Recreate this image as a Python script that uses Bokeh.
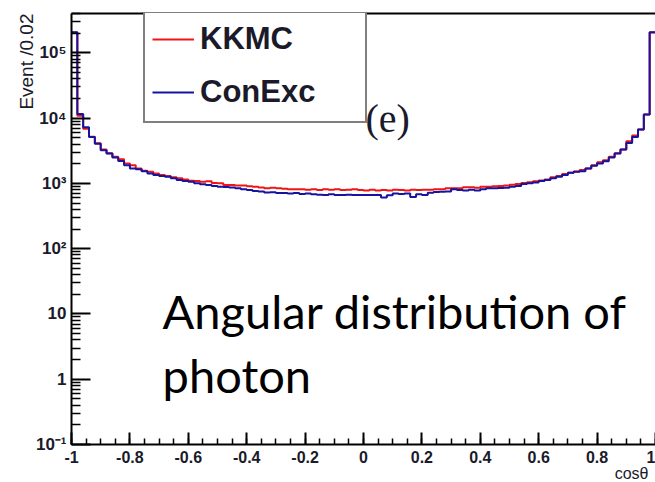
import numpy as np
from bokeh.plotting import figure
from bokeh.models import (FixedTicker, Legend, LegendItem, Label, LinearAxis, Title)
from bokeh.embed import file_html
from bokeh.resources import INLINE

# ---------------- data ----------------
bin_edges = np.linspace(-1.0, 1.0, 101)   # 100 bins of width 0.02 in cos(theta)

kkmc = [205000, 10900, 6860, 5200, 4100, 3300, 2900, 2560, 2350, 2020,
        1900, 1690, 1560, 1510, 1420, 1340, 1300, 1240, 1200, 1150,
        1100, 1090, 1060, 1075, 1015, 1000, 945, 940, 925, 925,
        900, 890, 865, 845, 860, 845, 830, 815, 815, 815,
        800, 815, 790, 815, 800, 815, 790, 800, 815, 790,
        780, 800, 780, 790, 780, 800, 790, 780, 800, 790,
        800, 800, 815, 815, 845, 845, 845, 870, 870, 860,
        890, 890, 900, 915, 930, 950, 980, 1015, 1040, 1075,
        1110, 1150, 1240, 1300, 1390, 1450, 1520, 1600, 1690, 1900,
        2100, 2270, 2560, 2900, 3300, 4400, 5420, 6690, 11300, 205000]

conexc = [207000, 11600, 7250, 5110, 4060, 3210, 2860, 2490, 2210, 1900,
          1690, 1640, 1540, 1420, 1340, 1300, 1260, 1200, 1130, 1090,
          1060, 1000, 970, 945, 915, 890, 880, 865, 845, 815,
          790, 765, 750, 725, 730, 715, 710, 700, 710, 690,
          700, 680, 670, 665, 680, 665, 665, 670, 665, 665,
          665, 665, 665, 610, 660, 700, 690, 700, 620, 680,
          665, 720, 740, 745, 750, 810, 790, 780, 800, 780,
          815, 845, 845, 850, 860, 890, 915, 980, 1000, 1030,
          1090, 1130, 1200, 1260, 1340, 1450, 1510, 1540, 1690, 1860,
          2020, 2190, 2490, 2860, 3290, 4150, 5110, 6690, 11300, 207000]

series_names = ["KKMC", "ConExc"]
series_colors = ["#f01414", "#1414a0"]

x_ticks = [-1, -0.8, -0.6, -0.4, -0.2, 0, 0.2, 0.4, 0.6, 0.8, 1]
x_tick_labels = ["-1", "-0.8", "-0.6", "-0.4", "-0.2", "0", "0.2", "0.4", "0.6", "0.8", "1"]
y_ticks = [0.1, 1, 10, 100, 1000, 10000, 100000]
y_tick_labels = ["10\u207b\u00b9", "1", "10", "10\u00b2", "10\u00b3", "10\u2074", "10\u2075"]

y_title = "Event /0.02"
x_title = "cos\u03b8"
panel_tag = "(e)"
note_lines = ["Angular distribution of", "photon"]

# ---------------- figure ----------------
p = figure(width=655, height=482, x_range=(-1, 1), y_range=(0.1, 4e5),
           y_axis_type="log", output_backend="svg", toolbar_location=None,
           min_border_left=71, min_border_right=0, min_border_top=13,
           min_border_bottom=38)
p.outline_line_color = None
p.grid.visible = False
p.background_fill_color = "white"
p.border_fill_color = "white"

renderers = []
for vals, col in zip([kkmc, conexc], series_colors):
    ys = list(vals) + [vals[-1]]
    r = p.step(x=bin_edges, y=ys, mode="after", line_color=col, line_width=2)
    renderers.append(r)

# x axis (ROOT style: ticks inside)
xa = p.xaxis[0]
xa.ticker = FixedTicker(ticks=x_ticks,
                        minor_ticks=list(np.round(np.arange(-1.0, 1.0001, 0.05), 2)))
xa.major_label_overrides = dict(zip(x_ticks, x_tick_labels))
xa.major_tick_in = 12
xa.major_tick_out = 0
xa.minor_tick_in = 6
xa.minor_tick_out = 0
xa.axis_line_width = 2
xa.major_tick_line_width = 2
xa.minor_tick_line_width = 1.5
xa.major_label_standoff = 6
xa.major_label_text_font = "Liberation Sans"
xa.major_label_text_font_style = "bold"
xa.major_label_text_font_size = "16px"
xa.major_label_text_color = "#1a1a2a"

ya = p.yaxis[0]
minor_y = [m * 10.0 ** e for e in range(-1, 6) for m in range(2, 10)]
ya.ticker = FixedTicker(ticks=y_ticks, minor_ticks=minor_y)
ya.major_label_overrides = dict(zip(y_ticks, y_tick_labels))
ya.major_tick_in = 19
ya.major_tick_out = 0
ya.minor_tick_in = 9
ya.minor_tick_out = 0
ya.axis_line_width = 2
ya.major_tick_line_width = 2
ya.minor_tick_line_width = 1.5
ya.major_label_standoff = 5
ya.major_label_text_font = "Liberation Sans"
ya.major_label_text_font_style = "bold"
ya.major_label_text_font_size = "17px"
ya.major_label_text_color = "#1a1a2a"

# top frame line
top = LinearAxis(ticker=FixedTicker(ticks=[]), axis_line_width=2,
                 major_tick_in=0, major_tick_out=0, minor_tick_in=0, minor_tick_out=0)
p.add_layout(top, "above")

# y title at the top of the left side (ROOT style)
p.add_layout(Title(text=y_title, align="right", standoff=-8, offset=0,
                   text_font="Liberation Sans", text_font_style="normal",
                   text_font_size="19px", text_color="#1a1a2a"), "left")
# x title at the right end of the bottom side
p.add_layout(Title(text=x_title, align="right", standoff=-5, offset=7,
                   text_font="Liberation Sans", text_font_style="normal",
                   text_font_size="16px", text_color="#1a1a2a"), "below")

# legend
legend = Legend(items=[LegendItem(label=n, renderers=[r]) for n, r in zip(series_names, renderers)],
                location=(72, 321), orientation="vertical",
                padding=7, spacing=9, glyph_width=42, glyph_height=44,
                label_height=44, label_width=158, label_standoff=6,
                border_line_color="black", border_line_width=2,
                background_fill_color="white", background_fill_alpha=1.0,
                label_text_font="Liberation Sans", label_text_font_style="bold",
                label_text_font_size="31px", label_text_color="#1a1a2a")
p.add_layout(legend, "center")

# texts inside the frame
p.add_layout(Label(x=0.007, y=9860, text=panel_tag, text_align="left",
                   text_baseline="alphabetic", text_font="Liberation Serif",
                   text_font_size="40px", text_color="#1a1a2a"))
for txt, yv in zip(note_lines, [10.9, 1.18]):
    p.add_layout(Label(x=-0.688, y=yv, text=txt, text_align="left",
                       text_baseline="alphabetic", text_font="Lato",
                       text_font_size="47px", text_color="black"))

open("out.html", "w").write(file_html(p, INLINE))
